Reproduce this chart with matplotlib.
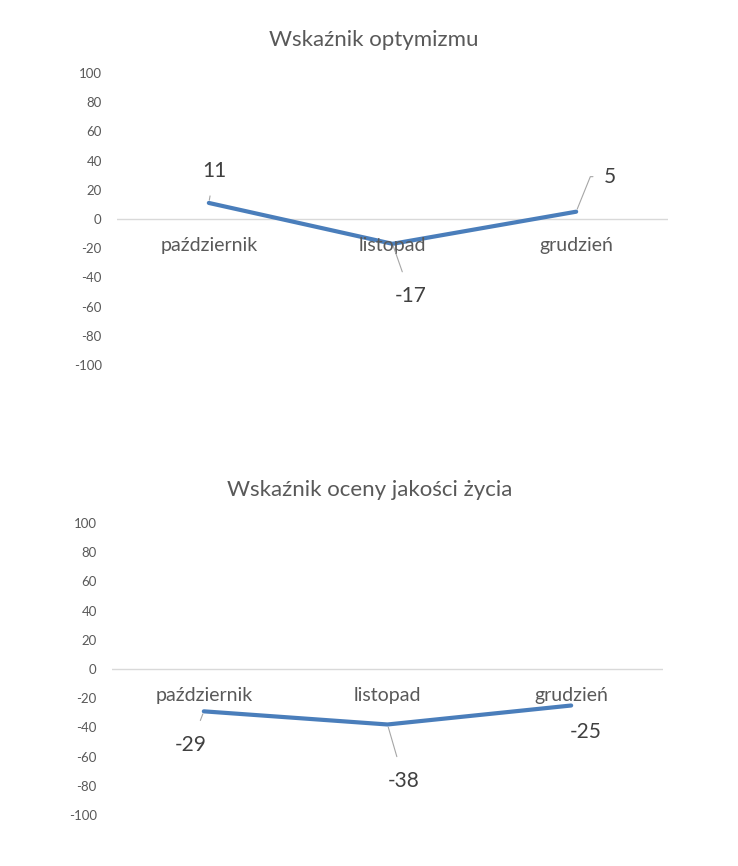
import matplotlib
matplotlib.use("Agg")
import matplotlib.pyplot as plt

plt.rcParams['font.family'] = ['Lato', 'DejaVu Sans']

categories = ["październik", "listopad", "grudzień"]
optimism = [11, -17, 5]
quality = [-29, -38, -25]
titles = ["Wskaźnik optymizmu", "Wskaźnik oceny jakości życia"]
yticks = [100, 80, 60, 40, 20, 0, -20, -40, -60, -80, -100]

# label offsets (data units: dx in categories, dy in value units) and leader flags
opt_offsets = [(0.03, 22), (0.10, -36), (0.185, 24)]
opt_leaders = [True, True, True]
qual_offsets = [(-0.07, -23), (0.09, -39), (0.08, -18)]
qual_leaders = [True, True, False]

LINE = "#4a7ebb"
TXT = "#595959"
LEAD = "#a6a6a6"

fig = plt.figure(figsize=(7.38, 8.66), dpi=100)
axes_rects = [
    [117/738, 1-365/866, 551/738, 292/866],
    [112/738, 1-815/866, 551/738, 292/866],
]
title_pos = [(374, 40), (370, 490)]

for k, (vals, offs, leads) in enumerate([(optimism, opt_offsets, opt_leaders),
                                         (quality, qual_offsets, qual_leaders)]):
    ax = fig.add_axes(axes_rects[k])
    x = list(range(len(categories)))
    ax.set_xlim(-0.5, len(categories) - 0.5)
    ax.set_ylim(-100, 100)
    for s in ax.spines.values():
        s.set_visible(False)
    ax.axhline(0, color="#d9d9d9", lw=1, zorder=1)
    ax.plot(x, vals, color=LINE, lw=3, solid_capstyle='round', zorder=3)
    ax.set_yticks(yticks)
    ax.set_yticklabels([str(t) for t in yticks])
    ax.tick_params(axis='y', length=0, pad=11, labelsize=9.5, labelcolor=TXT)
    ax.set_xticks([])
    for i, c in enumerate(categories):
        ax.annotate(c, xy=(i, 0), xytext=(0, -27), textcoords='offset pixels',
                    ha='center', va='center', fontsize=14, color=TXT)
    for i, v in enumerate(vals):
        dx, dy = offs[i]
        ap = None
        if leads[i]:
            if k == 0 and i == 2:
                ap = dict(arrowstyle='-', color=LEAD, lw=0.8, shrinkA=6, shrinkB=2,
                          connectionstyle="angle,angleA=0,angleB=68,rad=0")
            else:
                ap = dict(arrowstyle='-', color=LEAD, lw=0.8, shrinkA=9, shrinkB=2)
        ax.annotate(str(v), xy=(i, v), xytext=(i + dx, v + dy), textcoords='data',
                    ha='center', va='center', fontsize=15, color="#404040",
                    arrowprops=ap, zorder=4)
    tx, ty = title_pos[k]
    fig.text(tx/738, 1 - ty/866, titles[k], ha='center', va='center',
             fontsize=16, color=TXT)

fig.savefig("out.png", dpi=100, facecolor='white')
